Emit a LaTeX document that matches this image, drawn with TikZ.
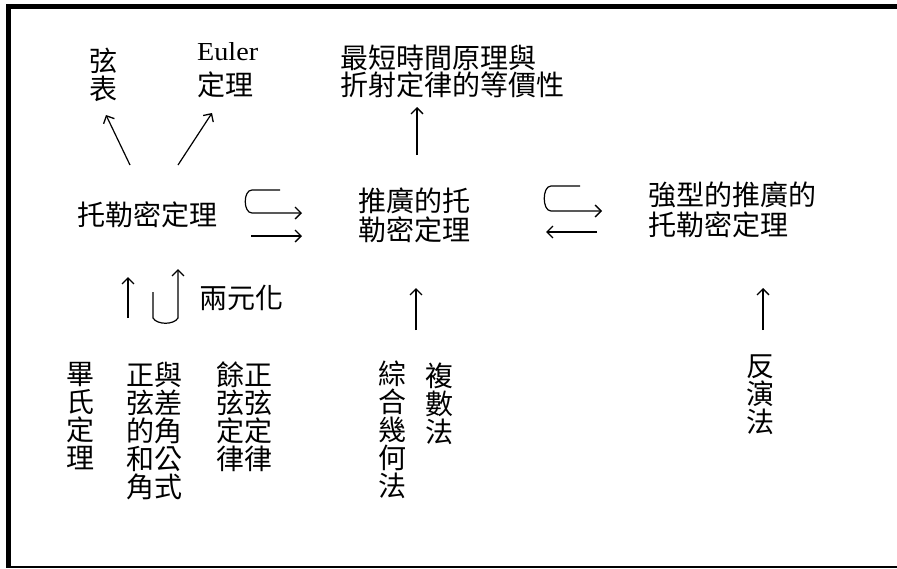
\documentclass[tikz,border=0pt]{standalone}
\usepackage{fontspec}
\usepackage{graphicx}
\usetikzlibrary{arrows.meta}
\newfontfamily\cjkfont{Noto Sans CJK TC}
\newfontfamily\eufont{Liberation Serif}
\tikzset{
  lbl/.style={inner sep=0pt, outer sep=0pt, font=\cjkfont\fontsize{28}{28}\selectfont},
  arr/.style={-{Straight Barb[length=6pt,width=12pt,line width=1.3pt]}, line width=1.2pt},
}
\begin{document}
\begin{tikzpicture}[x=1pt,y=-1pt]
\useasboundingbox (0,0) rectangle (897,568);
% frame
\draw[line width=5pt] (897,6.5) -- (6,6.5);
\draw[line width=4.5pt] (8.5,4) -- (8.5,567.5);
\draw[line width=1.6pt] (6,566.7) -- (897,566.7);
% labels
\node[lbl, anchor=north, align=center] (xb) at (103.5,48) {弦\\表};
\node[inner sep=0pt, anchor=base west] (eu) at (197,60) {\resizebox{61pt}{18pt}{\eufont\fontsize{25}{26}\selectfont Euler}};
\node[lbl, anchor=north west] (dl) at (197,72) {定理};
\node[lbl, anchor=north west, align=left, font=\cjkfont\fontsize{28}{27}\selectfont] (tp) at (340,45) {最短時間原理與\\折射定律的等價性};
\node[lbl, anchor=north west] (tl) at (77,202) {托勒密定理};
\node[lbl, anchor=north west, align=left, font=\cjkfont\fontsize{28}{29}\selectfont] (gt) at (358,188) {推廣的托\\勒密定理};
\node[lbl, anchor=north west, align=left, font=\cjkfont\fontsize{28}{30}\selectfont] (st) at (648,182) {強型的推廣的\\托勒密定理};
\node[lbl, anchor=north west] (ly) at (199,285) {兩元化};
\node[lbl, anchor=north, align=center] (bs) at (80.5,362) {畢\\氏\\定\\理};
\node[lbl, anchor=north west, align=left] (zy) at (126,362) {正與\\弦差\\的角\\和公\\角式};
\node[lbl, anchor=north west, align=left] (yz) at (216,362) {餘正\\弦弦\\定定\\律律};
\node[lbl, anchor=north, align=center] (zh) at (392.5,361) {綜\\合\\幾\\何\\法};
\node[lbl, anchor=north, align=center] (fs) at (439.5,363) {複\\數\\法};
\node[lbl, anchor=north, align=center] (fy) at (760,355) {反\\演\\法};
% connector end points
\coordinate (a1s) at (130,165); \coordinate (a1e) at (106,115);
\coordinate (a2s) at (178,165); \coordinate (a2e) at (212,113);
\coordinate (a3s) at (417,155); \coordinate (a3e) at (417,107);
\coordinate (h1s) at (280,190); \coordinate (h1a) at (252,190); \coordinate (h1b) at (252,213); \coordinate (h1e) at (302,213);
\coordinate (a4s) at (251,236); \coordinate (a4e) at (302,236);
\coordinate (h2s) at (580,186); \coordinate (h2a) at (551,186); \coordinate (h2b) at (551,211); \coordinate (h2e) at (602,211);
\coordinate (a5s) at (597,232); \coordinate (a5e) at (546,232);
\coordinate (a6s) at (128,318); \coordinate (a6e) at (128,277);
\coordinate (us) at (153,292); \coordinate (ua) at (153,318); \coordinate (ub) at (178,318); \coordinate (ue) at (178,269);
\coordinate (a7s) at (416,330); \coordinate (a7e) at (416,288);
\coordinate (a8s) at (763,330); \coordinate (a8e) at (763,288);
% connectors
\draw[arr] (a1s) -- (a1e);
\draw[arr] (a2s) -- (a2e);
\draw[arr] (a3s) -- (a3e);
\draw[arr] (h1s) -- (h1a) .. controls (243,190) and (243,213) .. (h1b) -- (h1e);
\draw[arr] (a4s) -- (a4e);
\draw[arr] (h2s) -- (h2a) .. controls (542,186) and (542,211) .. (h2b) -- (h2e);
\draw[arr] (a5s) -- (a5e);
\draw[arr] (a6s) -- (a6e);
\draw[arr] (us) -- (ua) .. controls (157,325) and (174,325) .. (ub) -- (ue);
\draw[arr] (a7s) -- (a7e);
\draw[arr] (a8s) -- (a8e);
\end{tikzpicture}
\end{document}
